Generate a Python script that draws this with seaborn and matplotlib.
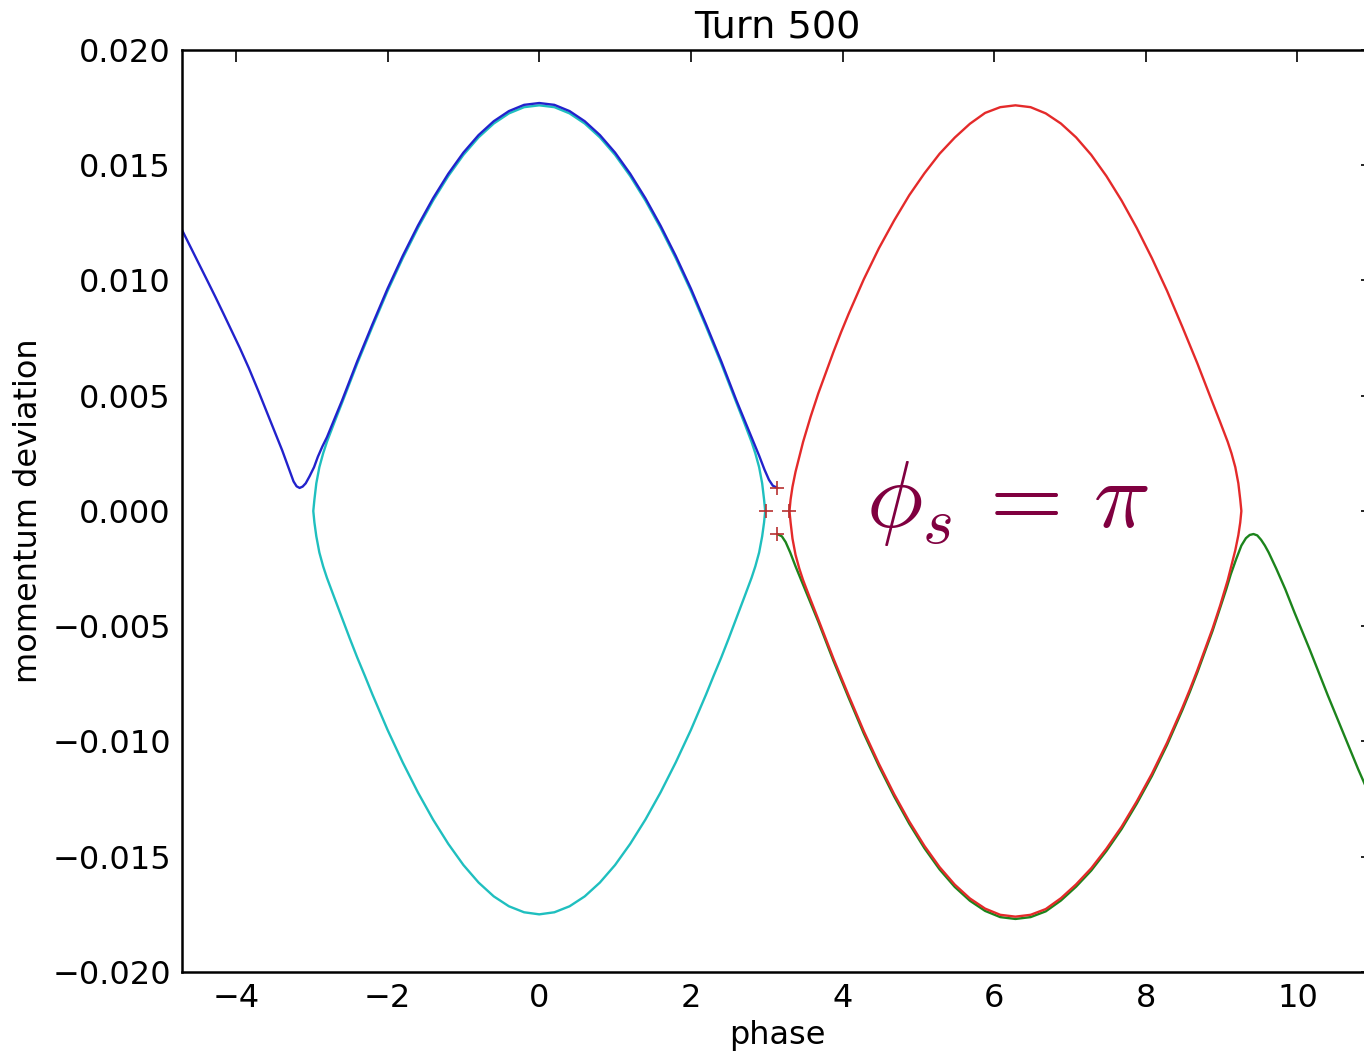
import seaborn as sns
import matplotlib
matplotlib.use("Agg")
import matplotlib.pyplot as plt


# phase-space tracks after 500 turns

# start points of the four particles
start_phase = [3.14, 3.14, 2.99, 3.29]
start_dp = [0.0010, -0.0010, 0.0000, 0.0000]

# blue: just above the separatrix, drifts to the left
blue_phase = [3.14, 3.08, 3.03, 2.97, 2.90, 2.85, 2.80, 2.70, 2.60, 2.50,
              2.40, 2.30, 2.20, 2.00, 1.80, 1.60, 1.40, 1.20, 1.00, 0.80,
              0.60, 0.40, 0.20, 0.00, -0.20, -0.40, -0.60, -0.80, -1.00, -1.20,
              -1.40, -1.60, -1.80, -2.00, -2.20, -2.30, -2.40, -2.50, -2.60, -2.70,
              -2.80, -2.86, -2.92, -2.97, -3.03, -3.08, -3.12, -3.16, -3.20, -3.24,
              -3.29, -3.34, -3.39, -3.50, -3.60, -3.70, -3.83, -3.95, -4.05, -4.16,
              -4.27, -4.38, -4.50, -4.60, -4.72]
blue_dp = [0.00100, 0.00110, 0.00135, 0.00180, 0.00240, 0.00280, 0.00320, 0.00400, 0.00480, 0.00565,
           0.00650, 0.00730, 0.00810, 0.00965, 0.01107, 0.01238, 0.01357, 0.01463, 0.01555, 0.01631,
           0.01691, 0.01735, 0.01762, 0.01770, 0.01762, 0.01735, 0.01691, 0.01631, 0.01555, 0.01463,
           0.01357, 0.01238, 0.01107, 0.00965, 0.00810, 0.00730, 0.00650, 0.00565, 0.00480, 0.00400,
           0.00320, 0.00280, 0.00235, 0.00190, 0.00150, 0.00120, 0.00106, 0.00100, 0.00107, 0.00128,
           0.00173, 0.00218, 0.00263, 0.00353, 0.00435, 0.00517, 0.00620, 0.00708, 0.00777, 0.00853,
           0.00928, 0.01001, 0.01080, 0.01146, 0.01225]

# cyan: closed orbit inside the left bucket
cyan_phase = [2.98, 2.965, 2.94, 2.90, 2.85, 2.80, 2.70, 2.60, 2.50, 2.40,
              2.30, 2.20, 2.00, 1.80, 1.60, 1.40, 1.20, 1.00, 0.80, 0.60,
              0.40, 0.20, 0.00, -0.20, -0.40, -0.60, -0.80, -1.00, -1.20, -1.40,
              -1.60, -1.80, -2.00, -2.20, -2.30, -2.40, -2.50, -2.60, -2.70, -2.80,
              -2.85, -2.90, -2.94, -2.965, -2.98, -2.965, -2.94, -2.90, -2.85, -2.80,
              -2.70, -2.60, -2.50, -2.40, -2.30, -2.20, -2.00, -1.80, -1.60, -1.40,
              -1.20, -1.00, -0.80, -0.60, -0.40, -0.20, 0.00, 0.20, 0.40, 0.60,
              0.80, 1.00, 1.20, 1.40, 1.60, 1.80, 2.00, 2.20, 2.30, 2.40,
              2.50, 2.60, 2.70, 2.80, 2.85, 2.90, 2.94, 2.965, 2.98]
cyan_dp = [0.0000, 0.0005, 0.0012, 0.0019, 0.0025, 0.0030, 0.00386, 0.0047, 0.00555, 0.0064,
           0.0072, 0.0080, 0.00955, 0.01097, 0.01228, 0.01347, 0.01453, 0.01545, 0.01621, 0.01681,
           0.01725, 0.01752, 0.0176, 0.01752, 0.01725, 0.01681, 0.01621, 0.01545, 0.01453, 0.01347,
           0.01228, 0.01097, 0.00955, 0.0080, 0.0072, 0.0064, 0.00555, 0.0047, 0.00386, 0.0030,
           0.0025, 0.0019, 0.0012, 0.0005, 0.0000, -0.0005, -0.0011, -0.0018, -0.0024, -0.0029,
           -0.00378, -0.00465, -0.00552, -0.00636, -0.00715, -0.00796, -0.0095, -0.01091, -0.01221, -0.01339,
           -0.01444, -0.01536, -0.01612, -0.01672, -0.01715, -0.01741, -0.0175, -0.01741, -0.01715, -0.01672,
           -0.01612, -0.01536, -0.01444, -0.01339, -0.01221, -0.01091, -0.0095, -0.00796, -0.00715, -0.00636,
           -0.00552, -0.00465, -0.00378, -0.0029, -0.0024, -0.0018, -0.0011, -0.0005, 0.0000]

# red: closed orbit inside the right bucket
red_phase = [3.30, 3.315, 3.34, 3.38, 3.43, 3.48, 3.58, 3.68, 3.78, 3.88,
             3.98, 4.08, 4.28, 4.48, 4.68, 4.88, 5.08, 5.28, 5.48, 5.68,
             5.88, 6.08, 6.28, 6.48, 6.68, 6.88, 7.08, 7.28, 7.48, 7.68,
             7.88, 8.08, 8.28, 8.48, 8.58, 8.68, 8.78, 8.88, 8.98, 9.08,
             9.13, 9.18, 9.22, 9.245, 9.26, 9.245, 9.22, 9.18, 9.13, 9.08,
             8.98, 8.88, 8.78, 8.68, 8.58, 8.48, 8.28, 8.08, 7.88, 7.68,
             7.48, 7.28, 7.08, 6.88, 6.68, 6.48, 6.28, 6.08, 5.88, 5.68,
             5.48, 5.28, 5.08, 4.88, 4.68, 4.48, 4.28, 4.08, 3.98, 3.88,
             3.78, 3.68, 3.58, 3.48, 3.43, 3.38, 3.34, 3.315, 3.30]
red_dp = [0.0000, -0.0005, -0.0012, -0.0019, -0.0025, -0.0030, -0.00386, -0.0047, -0.00555, -0.0064,
          -0.0072, -0.0080, -0.00955, -0.01097, -0.01228, -0.01347, -0.01453, -0.01545, -0.01621, -0.01681,
          -0.01725, -0.01752, -0.0176, -0.01752, -0.01727, -0.01680, -0.01620, -0.01550, -0.01465, -0.01370,
          -0.01260, -0.01140, -0.01005, -0.00855, -0.00775, -0.00690, -0.00600, -0.00510, -0.00410, -0.00300,
          -0.00235, -0.00170, -0.00105, -0.0005, 0.0000, 0.0005, 0.0012, 0.0019, 0.0025, 0.0030,
          0.00386, 0.0047, 0.00555, 0.0064, 0.0072, 0.0080, 0.00955, 0.01097, 0.01228, 0.01347,
          0.01453, 0.01545, 0.01621, 0.01681, 0.01725, 0.01752, 0.0176, 0.01752, 0.01727, 0.01680,
          0.01620, 0.01550, 0.01465, 0.01370, 0.01260, 0.01140, 0.01005, 0.00855, 0.00775, 0.00690,
          0.00600, 0.00510, 0.00410, 0.00300, 0.00235, 0.00170, 0.00105, 0.0005, 0.0000]

# green: just below the separatrix, drifts to the right
green_phase = [3.14, 3.20, 3.25, 3.31, 3.38, 3.43, 3.48, 3.58, 3.68, 3.78,
               3.88, 3.98, 4.08, 4.28, 4.48, 4.68, 4.88, 5.08, 5.28, 5.48,
               5.68, 5.88, 6.08, 6.28, 6.48, 6.68, 6.88, 7.08, 7.28, 7.48,
               7.68, 7.88, 8.08, 8.28, 8.48, 8.58, 8.68, 8.78, 8.88, 8.98,
               9.06, 9.12, 9.19, 9.26, 9.32, 9.37, 9.42, 9.47, 9.52, 9.57,
               9.62, 9.72, 9.84, 9.96, 10.06, 10.16, 10.28, 10.40, 10.50, 10.60,
               10.70, 10.80, 10.88, 11.00]
green_dp = [-0.00100, -0.00110, -0.00135, -0.00180, -0.00240, -0.00280, -0.00320, -0.00400, -0.00480, -0.00565,
            -0.00650, -0.00730, -0.00810, -0.00965, -0.01107, -0.01238, -0.01357, -0.01463, -0.01555, -0.01631,
            -0.01691, -0.01735, -0.01762, -0.01770, -0.01762, -0.01737, -0.01690, -0.01630, -0.01560, -0.01475,
            -0.01380, -0.01270, -0.01150, -0.01015, -0.00865, -0.00785, -0.00700, -0.00610, -0.00520, -0.00420,
            -0.00340, -0.00275, -0.00210, -0.00150, -0.00118, -0.00104, -0.00100, -0.00106, -0.00125, -0.00150,
            -0.00180, -0.00250, -0.00340, -0.00440, -0.00520, -0.00600, -0.00700, -0.00800, -0.00880, -0.00960,
            -0.01040, -0.01120, -0.01180, -0.01270]

x_ticks = [-4, -2, 0, 2, 4, 6, 8, 10]
y_ticks = [-0.020, -0.015, -0.010, -0.005, 0.000, 0.005, 0.010, 0.015, 0.020]


sns.set_style("white")
plt.rcParams.update({
    "font.family": ["DejaVu Sans"],
    "mathtext.fontset": "cm",
    "text.color": "black",
    "axes.labelcolor": "black",
    "xtick.color": "black",
    "ytick.color": "black",
    "xtick.direction": "in",
    "ytick.direction": "in",
    "xtick.top": True,
    "ytick.right": True,
    "axes.edgecolor": "black",
    "axes.linewidth": 1.8,
})

fig = plt.figure(figsize=(13.64, 10.55), dpi=100)
ax = fig.add_axes([0.1334, 0.0787, 0.8732, 0.8739])

lw = 1.7
sns.lineplot(x=cyan_phase, y=cyan_dp, sort=False, estimator=None, color="#1fbfbf", lw=lw, ax=ax)
sns.lineplot(x=blue_phase, y=blue_dp, sort=False, estimator=None, color="#2222cc", lw=lw, ax=ax)
sns.lineplot(x=green_phase, y=green_dp, sort=False, estimator=None, color="#1c841c", lw=lw, ax=ax)
sns.lineplot(x=red_phase, y=red_dp, sort=False, estimator=None, color="#e42a2a", lw=lw, ax=ax)
sns.scatterplot(x=start_phase, y=start_dp, marker="+", s=100, color="#b83030",
                linewidth=1.2, ax=ax, zorder=5)

ax.text(4.31, -0.0007, r"$\phi_s\,=\,\pi$", color="#800040", fontsize=68,
        ha="left", va="baseline")

ax.set_xlim(-4.712, 10.996)
ax.set_ylim(-0.020, 0.020)
ax.set_xticks(x_ticks)
ax.set_yticks(y_ticks)
ax.tick_params(axis="both", which="major", length=8.5, width=1.2, labelsize=23,
               pad=8)
ax.set_xlabel("phase", fontsize=23, labelpad=4)
ax.set_ylabel("momentum deviation", fontsize=23, labelpad=6)
ax.set_title("Turn 500", fontsize=27.5, pad=8)

fig.savefig("out.png", dpi=100, facecolor="white")
